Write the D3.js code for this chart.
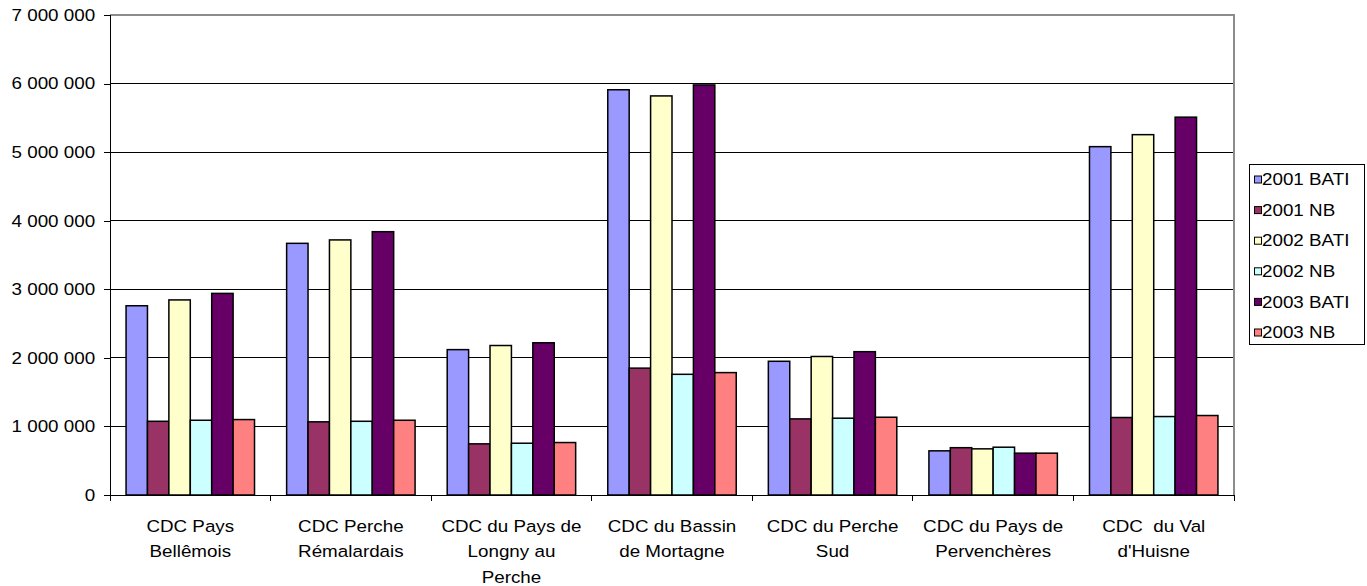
<!DOCTYPE html>
<html>
<head>
<meta charset="utf-8">
<script src="https://cdnjs.cloudflare.com/ajax/libs/d3/7.8.5/d3.min.js"></script>
<style>
	body { margin: 0; background: #fff; }
	svg { display: block; font-family: "Liberation Sans", Arial, sans-serif; }
	.grid line { stroke: #000; stroke-width: 1; shape-rendering: crispEdges; }
	.axis path, .axis line { stroke: #000; shape-rendering: crispEdges; }
	.axis text { font-size: 16.5px; fill: #000; white-space: pre; }
</style>
</head>
<body>
<svg id="chart" width="1367" height="586"></svg>
<script>

// Communautés de communes
let categories = [
	['CDC Pays', 'Bellêmois'],
	['CDC Perche', 'Rémalardais'],
	['CDC du Pays de', 'Longny au', 'Perche'],
	['CDC du Bassin', 'de Mortagne'],
	['CDC du Perche', 'Sud'],
	['CDC du Pays de', 'Pervenchères'],
	['CDC  du Val', "d'Huisne"]
];

let seriesNames = ['2001 BATI', '2001 NB', '2002 BATI', '2002 NB', '2003 BATI', '2003 NB'];

let bati2001 = [2760000, 3670000, 2120000, 5910000, 1950000, 644000, 5080000];
let nb2001   = [1075000, 1067000,  746000, 1850000, 1110000, 690000, 1130000];
let bati2002 = [2845000, 3720000, 2180000, 5820000, 2020000, 673000, 5255000];
let nb2002   = [1090000, 1075000,  755000, 1760000, 1120000, 697000, 1144000];
let bati2003 = [2940000, 3840000, 2220000, 5980000, 2090000, 610000, 5510000];
let nb2003   = [1100000, 1090000,  765000, 1785000, 1134000, 610000, 1159000];

let colors = ['#9999ff', '#993366', '#ffffcc', '#ccffff', '#660066', '#ff8080'];
let yTicks = [0, 1000000, 2000000, 3000000, 4000000, 5000000, 6000000, 7000000];

let seriesValues = [bati2001, nb2001, bati2002, nb2002, bati2003, nb2003];

let plotLeft = 110, plotRight = 1234, plotTop = 15, plotBottom = 495;
let sx = 1.14; // text is a little wider than the font in the picture

let svg = d3.select('#chart');

let x0 = d3.scaleBand().domain(d3.range(categories.length)).range([plotLeft, plotRight]).padding(0);
let x1 = d3.scaleBand().domain(seriesNames).range([0, x0.bandwidth()]).paddingInner(0).paddingOuter(0.75);
let y = d3.scaleLinear().domain([0, 7000000]).range([plotBottom, plotTop]);

// gridlines
svg.append('g').attr('class', 'grid')
	.selectAll('line').data(yTicks.slice(1)).enter().append('line')
	.attr('x1', plotLeft).attr('x2', plotRight)
	.attr('y1', d => y(d)).attr('y2', d => y(d));

// grey frame on top and right
svg.append('path')
	.attr('d', 'M' + plotLeft + ',' + y(7000000) + 'H' + plotRight + 'V' + plotBottom)
	.attr('fill', 'none').attr('stroke', '#8c8c8c').attr('stroke-width', 2);

// bars
let groups = svg.append('g').selectAll('g').data(categories).enter().append('g')
	.attr('transform', (d, i) => 'translate(' + x0(i) + ',0)');

groups.selectAll('rect')
	.data((d, i) => seriesNames.map((s, k) => ({ s: s, k: k, v: seriesValues[k][i] })))
	.enter().append('rect')
	.attr('x', d => x1(d.s))
	.attr('width', x1.bandwidth())
	.attr('y', d => y(d.v))
	.attr('height', d => y(0) - y(d.v))
	.attr('fill', d => colors[d.k])
	.attr('stroke', '#000')
	.attr('stroke-width', 1.5);

// y axis
let yAxis = svg.append('g').attr('class', 'axis')
	.attr('transform', 'translate(' + plotLeft + ',0)')
	.call(d3.axisLeft(y).tickValues(yTicks).tickSize(6).tickPadding(7)
		.tickFormat(d => d3.format(',')(d).replace(/,/g, ' ')));
yAxis.selectAll('text').attr('transform', 'scale(' + sx + ',1)');

// x axis: line plus ticks at category boundaries
let xAxis = svg.append('g').attr('class', 'axis');
xAxis.append('line').attr('x1', plotLeft).attr('x2', plotRight).attr('y1', plotBottom).attr('y2', plotBottom);
xAxis.selectAll('line.tick').data(d3.range(categories.length + 1)).enter().append('line')
	.attr('class', 'tick')
	.attr('x1', d => plotLeft + d * x0.step()).attr('x2', d => plotLeft + d * x0.step())
	.attr('y1', plotBottom).attr('y2', plotBottom + 6);

// category labels
let labels = xAxis.selectAll('g.lab').data(categories).enter().append('g')
	.attr('class', 'lab')
	.attr('transform', (d, i) => 'translate(' + (x0(i) + x0.bandwidth() / 2) + ',0) scale(' + sx + ',1)');
labels.selectAll('text').data(d => d).enter().append('text')
	.attr('text-anchor', 'middle')
	.attr('y', (d, j) => 532 + j * 25.5)
	.text(d => d);

// legend
let legend = svg.append('g');
legend.append('rect')
	.attr('x', 1249.5).attr('y', 164.5).attr('width', 115).attr('height', 180)
	.attr('fill', '#fff').attr('stroke', '#000').attr('stroke-width', 1);

let item = legend.selectAll('g.item').data(seriesNames).enter().append('g')
	.attr('class', 'item')
	.attr('transform', (d, i) => 'translate(1254,' + (179.5 + i * 30.6) + ')');
item.append('rect')
	.attr('x', 0.5).attr('y', -3.5).attr('width', 7).attr('height', 7)
	.attr('fill', (d, i) => colors[i]).attr('stroke', '#000').attr('stroke-width', 1);
item.append('text')
	.attr('transform', 'translate(8,0) scale(' + sx + ',1)')
	.attr('dy', '0.35em')
	.style('font-size', '16.5px')
	.text(d => d);

</script>
</body>
</html>
